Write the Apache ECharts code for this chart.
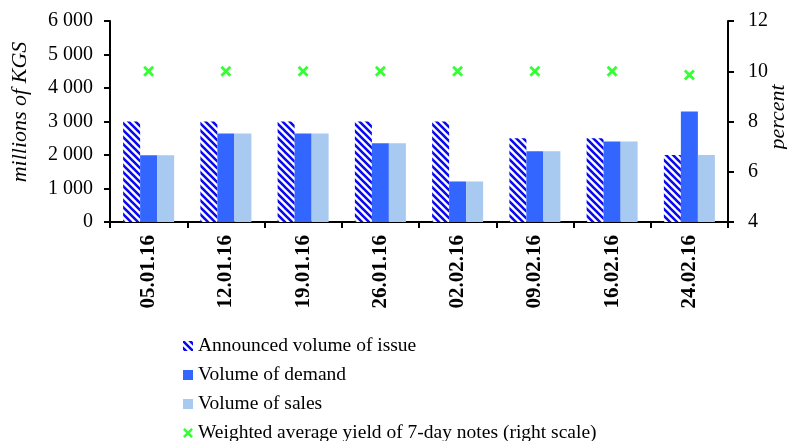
<!DOCTYPE html>
<html><head><meta charset="utf-8">
<script src="https://cdn.jsdelivr.net/npm/echarts@6/dist/echarts.min.js"></script>
<style>html,body{margin:0;padding:0;background:#fff}#c{width:787px;height:441px}</style>
</head><body><div id="c"></div>
<script>
const categories = ['05.01.16','12.01.16','19.01.16','26.01.16','02.02.16','09.02.16','16.02.16','24.02.16'];
const announced = [3000,3000,3000,3000,3000,2500,2500,2000];
const demand = [1990,2640,2640,2350,1210,2110,2400,3300];
const sales = [1990,2640,2640,2350,1210,2110,2400,2000];
const yieldPct = [10.0,10.0,10.0,10.0,10.0,10.0,10.0,9.85];
const seriesNames = ['Announced volume of issue','Volume of demand','Volume of sales','Weighted average yield of 7-day notes (right scale)'];
const leftName = 'millions of KGS';
const rightName = 'percent';

function stripe(){
  const s=7, c=document.createElement('canvas'); c.width=c.height=s;
  const g=c.getContext('2d');
  g.fillStyle='#ffffff'; g.fillRect(0,0,s,s);
  g.strokeStyle='#0a0aee'; g.lineWidth=2.6; g.beginPath();
  g.moveTo(-2,-2); g.lineTo(s+2,s+2);
  g.moveTo(-2,s-2); g.lineTo(2,s+2);
  g.moveTo(s-2,-2); g.lineTo(s+2,2);
  g.stroke(); return c;
}
const starPath = 'path://M0,1.8L1.8,0L5,3.2L8.2,0L10,1.8L6.8,5L10,8.2L8.2,10L5,6.8L1.8,10L0,8.2L3.2,5Z';
const font = 'Liberation Serif, Times New Roman, serif';
const fmt = v => { const s=String(v); return s.length>3 ? s.slice(0,-3)+' '+s.slice(-3) : s; };
const legendTops = [336, 365, 394, 423];
const legendIcons = ['rect','rect','rect',starPath];

const chart = echarts.init(document.getElementById('c'), null, {renderer:'canvas'});
chart.setOption({
  animation:false,
  backgroundColor:'#fff',
  grid:{left:110,right:59,top:21,bottom:219,containLabel:false},
  legend: seriesNames.map((n,i)=>({
    orient:'vertical', left:183, top:legendTops[i], padding:0, itemWidth:10, itemHeight:10,
    textStyle:{fontFamily:font,fontSize:19.5,color:'#000',lineHeight:19},
    data:[{name:n,icon:legendIcons[i]}]
  })),
  xAxis:{
    type:'category', data:categories,
    axisLine:{lineStyle:{color:'#000',width:2}},
    axisTick:{show:true,length:6,lineStyle:{color:'#000',width:2}},
    axisLabel:{rotate:90,margin:13,fontFamily:font,fontSize:21,fontWeight:'bold',color:'#000'}
  },
  yAxis:[
    {type:'value',min:0,max:6000,interval:1000,
     axisLine:{show:true,lineStyle:{color:'#000',width:2}},
     axisTick:{show:true,length:6,lineStyle:{color:'#000',width:2}},
     splitLine:{show:false},
     axisLabel:{margin:17,fontFamily:font,fontSize:20,color:'#000',formatter:fmt}},
    {type:'value',min:4,max:12,interval:2,position:'right',
     axisLine:{show:true,lineStyle:{color:'#000',width:2}},
     axisTick:{show:true,length:6,lineStyle:{color:'#000',width:2}},
     splitLine:{show:false},
     axisLabel:{margin:20,fontFamily:font,fontSize:20,color:'#000'}}
  ],
  graphic:[
    {type:'text',x:20,y:112,rotation:Math.PI/2,style:{text:leftName,font:'italic 22px '+font,fill:'#000',align:'center',verticalAlign:'middle'}},
    {type:'text',x:778,y:117,rotation:Math.PI/2,style:{text:rightName,font:'italic 22px '+font,fill:'#000',align:'center',verticalAlign:'middle'}}
  ],
  series:[
    {name:seriesNames[0],type:'bar',data:announced,barWidth:17,barGap:'0%',
     itemStyle:{color:{image:stripe(),repeat:'repeat'}}},
    {name:seriesNames[1],type:'bar',data:demand,barWidth:17,barGap:'0%',itemStyle:{color:'#3366ff'}},
    {name:seriesNames[2],type:'bar',data:sales,barWidth:17,barGap:'0%',itemStyle:{color:'#a8c9f0'}},
    {name:seriesNames[3],type:'scatter',yAxisIndex:1,data:yieldPct,symbol:starPath,symbolSize:11,
     itemStyle:{color:'#00ff00'}}
  ]
});
</script></body></html>
